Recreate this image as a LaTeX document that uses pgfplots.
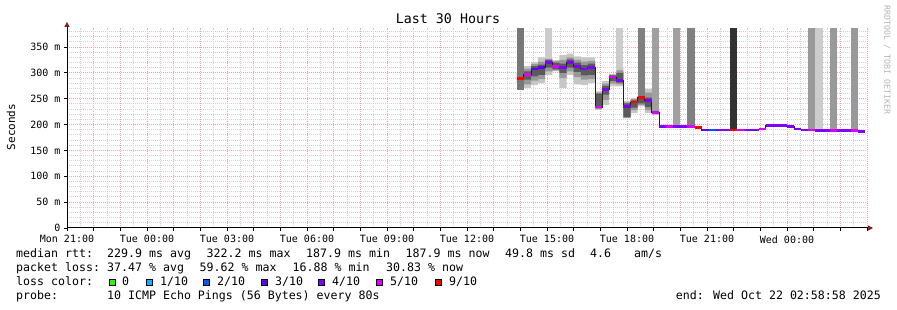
\documentclass[border=0pt]{standalone}
\usepackage{pgfplots}
\pgfplotsset{compat=1.18}
\usepackage{pgfplotstable}
\usepgfplotslibrary{fillbetween}
\usetikzlibrary{arrows.meta}
\usepackage{fontspec}
\setmainfont{DejaVu Sans Mono}
\newfontfamily\mono{DejaVu Sans Mono}
\newcommand\leg{\mono\fontsize{11.6}{13}\selectfont}
\definecolor{lc0}{HTML}{26FF00}
\definecolor{lc1}{HTML}{00B8FF}
\definecolor{lc2}{HTML}{0059FF}
\definecolor{lc3}{HTML}{5E00FF}
\definecolor{lc4}{HTML}{7E00FF}
\definecolor{lc5}{HTML}{DD00FF}
\definecolor{lc9}{HTML}{FF0000}
\definecolor{gridmaj}{HTML}{F2A8A8}
\definecolor{gridmin}{HTML}{D2D2D2}
\definecolor{arrowred}{HTML}{8B1A1A}
\definecolor{smo}{HTML}{C6C6C6}
\definecolor{smm}{HTML}{989898}
\definecolor{smc}{HTML}{5A5A5A}
\definecolor{wm}{HTML}{B4B4B4}
\definecolor{g77}{HTML}{777777}
\definecolor{g80}{HTML}{808080}
\definecolor{ga0}{HTML}{A0A0A0}
\definecolor{g99}{HTML}{999999}
\definecolor{gcc}{HTML}{CCCCCC}
\definecolor{g33}{HTML}{333333}

\pgfplotstableread{
x med c olo ohi mlo mhi clo chi
1012 289 e 289 289 289 289 280 300
1028 296.5 d 271 313 278 308 287 303
1044 307.5 b 277 321 285 317 293 313
1060 310.7 b 280 330 288 322 296 316
1076 320.3 c 296 330 303 327 310 325
1092 312 d 303 324 305 323 307 320
1108 310.7 c 271 335 290 325 300 318
1124 320.3 c 296 337 303 330 310 326
1140 312.6 c 278 332 292 325 302 320
1156 307.5 c 277 330 287 322 295 315
1172 310.7 c 280 330 288 323 296 318
1188 234 d 229 264 230 262 232 260
1204 267.5 c 238 284 248 279 258 275
1220 292 d 274 298 279 296 284 295
1236 285 c 274 309 278 305 281 300
1252 235 c 212 246 213 243 215 241
1268 243.6 e 222 251 228 249 233 247
1284 252.7 e 235 256 238 256 241 254
1300 247 c 222 269 228 262 234 252
1316 223.7 d 219 229 220 228 221 226
1332 196 c 196 196 196 196 196 196
1348 196 d 196 196 196 196 196 196
1364 196 c 196 196 196 196 196 196
1380 197 c 197 197 197 197 197 197
1396 197 d 197 197 197 197 197 197
1412 194 e 194 194 194 194 194 194
1428 189.5 b 189.5 189.5 189.5 189.5 189.5 189.5
1444 189.5 a 189.5 189.5 189.5 189.5 189.5 189.5
1460 189.5 c 189.5 189.5 189.5 189.5 189.5 189.5
1476 189.5 c 189.5 189.5 189.5 189.5 189.5 189.5
1492 189.5 e 189.5 189.5 189.5 189.5 189.5 189.5
1508 189.5 d 189.5 189.5 189.5 189.5 189.5 189.5
1524 189.5 c 189.5 189.5 189.5 189.5 189.5 189.5
1540 189.5 c 189.5 189.5 189.5 189.5 189.5 189.5
1556 191.4 d 191.4 191.4 191.4 191.4 191.4 191.4
1572 198.5 c 198.5 198.5 198.5 198.5 198.5 198.5
1588 198.5 c 198.5 198.5 198.5 198.5 198.5 198.5
1604 198.5 c 198.5 198.5 198.5 198.5 198.5 198.5
1620 197 c 194 199 195 198 197 197
1636 191.4 c 190 194 191 193 191.4 191.4
1652 189.5 c 189.5 189.5 189.5 189.5 189.5 189.5
1668 189.5 d 189.5 189.5 189.5 189.5 189.5 189.5
1684 189 c 189 189 189 189 189 189
1700 189 c 189 189 189 189 189 189
1716 189 d 189 189 189 189 189 189
1732 189 c 189 189 189 189 189 189
1748 189 c 189 189 189 189 189 189
1764 189 d 189 189 189 189 189 189
1780 187 c 187 187 187 187 187 187
1796 187 c 187 187 187 187 187 187
}\smoke

\newcommand\tall[4]{\addplot[draw=none, fill=#4, forget plot] coordinates {(#1,#3) (#2,#3) (#2,387) (#1,387)};}

\begin{document}
\begin{tikzpicture}
\begin{axis}[
  at={(67pt,82pt)}, anchor=south west,
  scale only axis, width=800pt, height=200.1pt,
  xmin=0, xmax=1800, ymin=0, ymax=387,
  axis x line=bottom, axis y line=left,
  axis line style={black, line width=1pt},
  x axis line style={-{Triangle[length=5pt,width=5pt,color=arrowred]}, shorten >=-6pt},
  y axis line style={-{Triangle[length=5pt,width=5pt,color=arrowred]}, shorten >=-6pt},
  xtick={0,60,...,1800},
  xticklabels={{Mon 21:00},{},{},{Tue 00:00},{},{},{Tue 03:00},{},{},{Tue 06:00},{},{},{Tue 09:00},{},{},{Tue 12:00},{},{},{Tue 15:00},{},{},{Tue 18:00},{},{},{Tue 21:00},{},{},{Wed 00:00},{},{},{}},
  minor xtick={30,90,...,1770},
  ytick={0,50,...,350},
  yticklabels={0,50 m,100 m,150 m,200 m,250 m,300 m,350 m},
  minor ytick={10,20,30,40,60,70,80,90,110,120,130,140,160,170,180,190,210,220,230,240,260,270,280,290,310,320,330,340,360,370,380},
  grid=both,
  major grid style={gridmaj, line width=1pt, dash pattern=on 1pt off 1pt},
  minor grid style={gridmin, line width=1pt, dash pattern=on 1pt off 1pt},
  tick align=outside, major tick length=3pt, minor tick length=0pt,
  tick style={black, line width=0.8pt},
  ticklabel style={font=\mono\fontsize{10}{12}\selectfont},
  xticklabel style={yshift=-1pt},
]
\tall{1012}{1028}{267}{g77}
\tall{1076}{1092}{330}{gcc}
\tall{1236}{1252}{309}{gcc}
\tall{1284}{1300}{256}{g80}
\tall{1316}{1332}{229}{ga0}
\tall{1364}{1380}{197}{ga0}
\tall{1396}{1412}{197}{g80}
\tall{1492}{1508}{190}{g33}
\tall{1668}{1684}{190}{g99}
\tall{1684}{1700}{190}{gcc}
\tall{1716}{1732}{190}{g99}
\tall{1764}{1780}{190}{g99}

\addplot[name path=olo, draw=none, const plot, forget plot] table[x=x,y=olo]{\smoke};
\addplot[name path=ohi, draw=none, const plot, forget plot] table[x=x,y=ohi]{\smoke};
\addplot[fill=smo, draw=none, forget plot] fill between[of=olo and ohi];
\addplot[name path=mlo, draw=none, const plot, forget plot] table[x=x,y=mlo]{\smoke};
\addplot[name path=mhi, draw=none, const plot, forget plot] table[x=x,y=mhi]{\smoke};
\addplot[fill=smm, draw=none, forget plot] fill between[of=mlo and mhi];
\addplot[name path=clo, draw=none, const plot, forget plot] table[x=x,y=clo]{\smoke};
\addplot[name path=chi, draw=none, const plot, forget plot] table[x=x,y=chi]{\smoke};
\addplot[fill=smc, draw=none, forget plot] fill between[of=clo and chi];

\addplot[const plot, black!88, line width=1pt, forget plot] table[x=x,y=med]{\smoke};

\addplot[scatter, only marks, point meta=explicit symbolic,
  scatter/classes={a={mark=-,draw=lc2}, b={mark=-,draw=lc3}, c={mark=-,draw=lc4}, d={mark=-,draw=lc5}, e={mark=-,draw=lc9}},
  mark size=3.56pt, every mark/.append style={line width=2.8pt, solid},
  restrict x to domain=1000:1795, forget plot]
  table[x expr=\thisrow{x}+8, y=med, meta=c]{\smoke};
\end{axis}

\node[font=\mono\fontsize{13.3}{15}\selectfont] at (448pt,291pt) {Last 30 Hours};
\node[font=\mono\fontsize{11}{13}\selectfont, rotate=90] at (11pt,183pt) {Seconds};
\node[font=\mono\fontsize{8.3}{10}\selectfont, rotate=-90, text=wm] at (887pt,250pt) {RRDTOOL / TOBI OETIKER};

\node[anchor=base west, inner sep=0, font=\leg] at (16pt,52pt) {median rtt:};
\node[anchor=base west, inner sep=0, font=\leg] at (107pt,52pt) {229.9 ms avg};
\node[anchor=base west, inner sep=0, font=\leg] at (206.5pt,52pt) {322.2 ms max};
\node[anchor=base west, inner sep=0, font=\leg] at (306pt,52pt) {187.9 ms min};
\node[anchor=base west, inner sep=0, font=\leg] at (405.5pt,52pt) {187.9 ms now};
\node[anchor=base west, inner sep=0, font=\leg] at (505pt,52pt) {49.8 ms sd};
\node[anchor=base west, inner sep=0, font=\leg] at (590pt,52pt) {4.6};
\node[anchor=base west, inner sep=0, font=\leg] at (634pt,52pt) {am/s};

\node[anchor=base west, inner sep=0, font=\leg] at (16pt,38pt) {packet loss:};
\node[anchor=base west, inner sep=0, font=\leg] at (107pt,38pt) {37.47 \% avg};
\node[anchor=base west, inner sep=0, font=\leg] at (199.5pt,38pt) {59.62 \% max};
\node[anchor=base west, inner sep=0, font=\leg] at (292.5pt,38pt) {16.88 \% min};
\node[anchor=base west, inner sep=0, font=\leg] at (386pt,38pt) {30.83 \% now};

\node[anchor=base west, inner sep=0, font=\leg] at (16pt,24pt) {loss color:};
\draw[fill=lc0, draw=black, line width=0.7pt] (109.5pt,24.5pt) rectangle (115.5pt,30.5pt);
\node[anchor=base west, inner sep=0, font=\leg] at (122pt,24pt) {0};
\draw[fill=lc1, draw=black, line width=0.7pt] (146.5pt,24.5pt) rectangle (152.5pt,30.5pt);
\node[anchor=base west, inner sep=0, font=\leg] at (160pt,24pt) {1/10};
\draw[fill=lc2, draw=black, line width=0.7pt] (203.5pt,24.5pt) rectangle (209.5pt,30.5pt);
\node[anchor=base west, inner sep=0, font=\leg] at (217pt,24pt) {2/10};
\draw[fill=lc3, draw=black, line width=0.7pt] (261.5pt,24.5pt) rectangle (267.5pt,30.5pt);
\node[anchor=base west, inner sep=0, font=\leg] at (275pt,24pt) {3/10};
\draw[fill=lc4, draw=black, line width=0.7pt] (318.5pt,24.5pt) rectangle (324.5pt,30.5pt);
\node[anchor=base west, inner sep=0, font=\leg] at (332pt,24pt) {4/10};
\draw[fill=lc5, draw=black, line width=0.7pt] (376.5pt,24.5pt) rectangle (382.5pt,30.5pt);
\node[anchor=base west, inner sep=0, font=\leg] at (390pt,24pt) {5/10};
\draw[fill=lc9, draw=black, line width=0.7pt] (435.5pt,24.5pt) rectangle (441.5pt,30.5pt);
\node[anchor=base west, inner sep=0, font=\leg] at (449pt,24pt) {9/10};

\node[anchor=base west, inner sep=0, font=\leg] at (16pt,10pt) {probe:};
\node[anchor=base west, inner sep=0, font=\leg] at (107pt,10pt) {10 ICMP Echo Pings (56 Bytes) every 80s};
\node[anchor=base east, inner sep=0, font=\leg] at (881pt,10pt) {end: Wed Oct 22 02:58:58 2025};
\pgfresetboundingbox
\path[use as bounding box] (0,0) rectangle (897pt,310pt);
\end{tikzpicture}
\end{document}
